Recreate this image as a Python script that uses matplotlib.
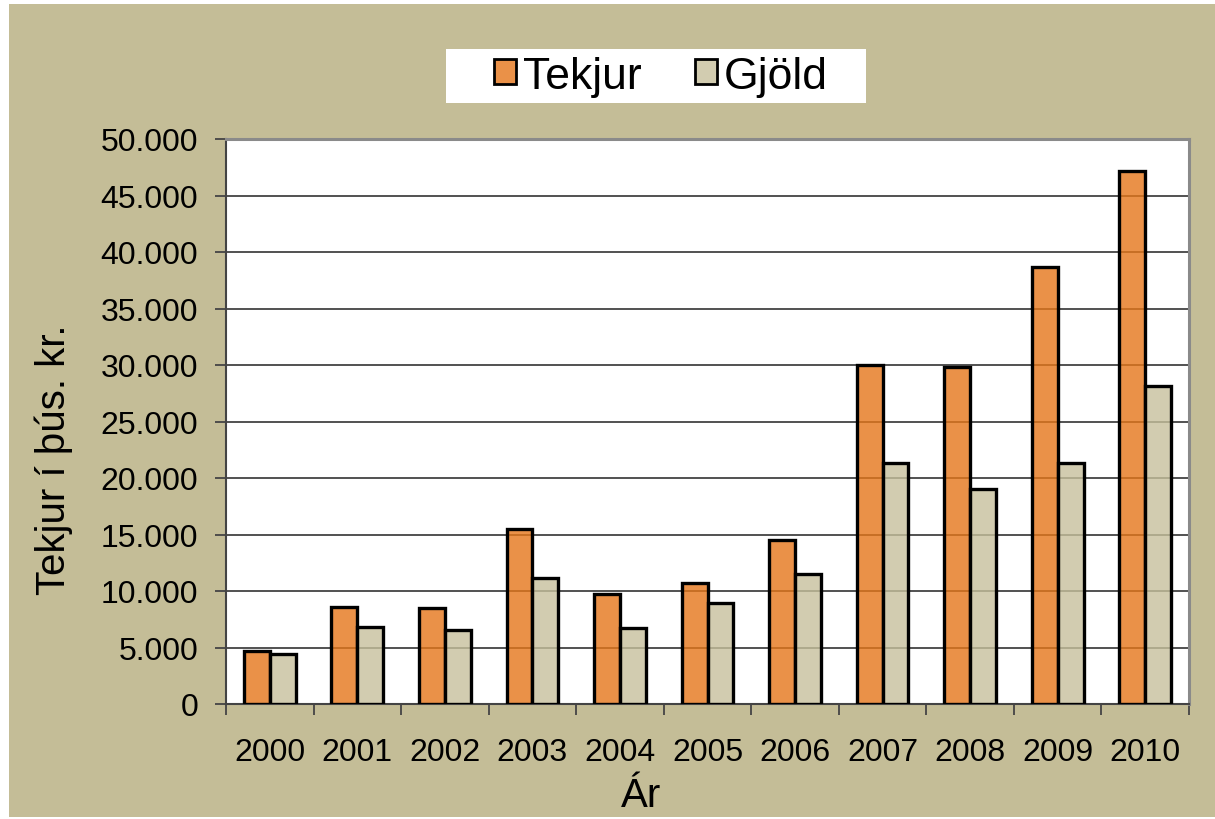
import matplotlib
matplotlib.use("Agg")
import matplotlib.pyplot as plt
from matplotlib.patches import Rectangle
import numpy as np

plt.rcParams['font.family'] = ['Liberation Sans', 'DejaVu Sans']

years = ['2000', '2001', '2002', '2003', '2004', '2005', '2006', '2007', '2008', '2009', '2010']
tekjur = [4700, 8560, 8520, 15490, 9730, 10710, 14510, 30000, 29820, 38670, 47170]
gjold = [4420, 6790, 6580, 11150, 6730, 8940, 11500, 21330, 19030, 21330, 28140]
yticks = [0, 5000, 10000, 15000, 20000, 25000, 30000, 35000, 40000, 45000, 50000]
ytick_labels = ['0', '5.000', '10.000', '15.000', '20.000', '25.000', '30.000',
                '35.000', '40.000', '45.000', '50.000']
series_names = ['Tekjur', 'Gjöld']
ylabel = 'Tekjur í þús. kr.'
xlabel = 'Ár'

W, H = 1215, 820
fig = plt.figure(figsize=(W / 100, H / 100), dpi=100)
fig.patch.set_facecolor('white')
# tan background with thin white margin on left/top
fig.patches.append(Rectangle((9 / W, 2 / H), 1 - 9 / W, 1 - 7 / H, transform=fig.transFigure,
                             facecolor='#C4BD97', edgecolor='none', zorder=-10))

L, R, T, B = 226, 1189, 140, 705
ax = fig.add_axes([L / W, 1 - B / H, (R - L) / W, (B - T) / H])
ax.set_facecolor('white')
ax.set_zorder(1)

x = np.arange(len(years))
bw = 0.295
orange = (0.898, 0.463, 0.102, 0.8)
beige = (0.78, 0.753, 0.612, 0.8)
ax.bar(x - bw / 2, tekjur, bw, color=orange, edgecolor='black', linewidth=2.4, zorder=3,
       label=series_names[0])
ax.bar(x + bw / 2, gjold, bw, color=beige, edgecolor='black', linewidth=2.4, zorder=3,
       label=series_names[1])

ax.set_xlim(-0.5, len(years) - 0.5)
ax.set_ylim(0, 50000)
ax.set_yticks(yticks)
ax.set_yticklabels(ytick_labels, fontsize=23)
ax.yaxis.grid(True, color='#333333', linewidth=1.2, zorder=1)
ax.set_axisbelow(True)

ax.set_xticks(x)
ax.set_xticklabels(years, fontsize=23)
ax.tick_params(axis='x', which='major', length=0, pad=24)
ax.set_xticks(np.arange(-0.5, len(years), 1.0), minor=True)
ax.tick_params(axis='x', which='minor', length=8, width=1.3, color='#444444', direction='out')
ax.tick_params(axis='y', length=8, width=1.3, color='#444444', direction='out', pad=12)

for s in ['top', 'right']:
    ax.spines[s].set_color('#8a8a8a')
    ax.spines[s].set_linewidth(2.2)
for s in ['left', 'bottom']:
    ax.spines[s].set_color('#444444')
    ax.spines[s].set_linewidth(1.5)

fig.text(641 / W, 1 - 807 / H, xlabel, fontsize=29, ha='center', va='baseline')
fig.text(65 / W, 1 - 460 / H, ylabel, fontsize=29, ha='center', va='baseline',
         rotation=90, rotation_mode='anchor')

# legend box
fig.patches.append(Rectangle((446 / W, 1 - 104 / H), (866 - 446) / W, (104 - 50) / H,
                             transform=fig.transFigure, facecolor='white', edgecolor='none',
                             zorder=-5))
handles, labels = ax.get_legend_handles_labels()
leg = fig.legend(handles, labels, loc='center', bbox_to_anchor=(661 / W, 1 - 77 / H),
                 ncol=2, frameon=False, fontsize=32, handlelength=0.5, handleheight=0.5,
                 handletextpad=0.15, columnspacing=1.2, borderaxespad=0)
for hnd in leg.legend_handles:
    hnd.set_linewidth(2.0)

fig.savefig('out.png', dpi=100, facecolor=fig.get_facecolor())
